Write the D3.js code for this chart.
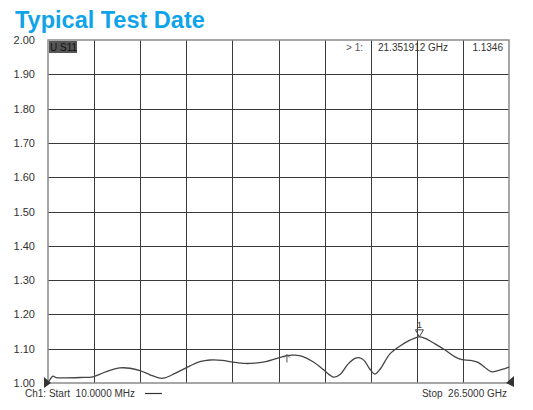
<!DOCTYPE html>
<html><head><meta charset="utf-8">
<script src="https://cdn.jsdelivr.net/npm/d3@7/dist/d3.min.js"></script>
<style>body{margin:0;background:#fff}svg{display:block}</style>
</head><body><svg id="c" width="533" height="410"></svg>
<script>
const title = "Typical Test Date";
const yTicks = [1.00,1.10,1.20,1.30,1.40,1.50,1.60,1.70,1.80,1.90,2.00];
const freqGHz = [0.01,0.125,0.30,0.47,0.99,1.85,2.60,3.00,3.57,4.15,4.72,5.30,5.87,6.45,6.73,7.31,8.17,8.74,9.32,10.01,10.64,11.33,11.90,12.59,13.05,13.74,14.20,14.66,15.24,15.81,16.21,16.44,16.79,17.25,17.65,17.88,18.17,18.51,18.80,19.09,19.66,20.24,20.81,21.35,21.68,22.25,22.83,23.40,23.80,24.26,24.72,25.12,25.47,25.87,26.27,26.50];
const swr = [1.000,1.010,1.020,1.016,1.015,1.016,1.018,1.026,1.037,1.044,1.043,1.036,1.024,1.014,1.015,1.028,1.050,1.062,1.067,1.066,1.061,1.057,1.058,1.063,1.070,1.080,1.081,1.077,1.062,1.040,1.023,1.017,1.025,1.055,1.072,1.074,1.066,1.040,1.026,1.040,1.085,1.108,1.125,1.1346,1.130,1.114,1.096,1.076,1.068,1.066,1.060,1.045,1.033,1.036,1.042,1.046];
const markerFreq = 21.351912, markerVal = 1.1346;
const refMarkerFreq = 13.74, refMarkerVal = 1.080;

const svg = d3.select("#c");
const L = 48, R = 509, T = 40, B = 383;
const x = d3.scaleLinear().domain([0.01, 26.5]).range([L, R]);
const y = d3.scaleLinear().domain([1.0, 2.0]).range([B, T]);
const font = "Liberation Sans, Arial, sans-serif";

svg.append("text").attr("x", 15).attr("y", 28).text(title)
  .attr("font-family", font).attr("font-weight", "bold").attr("font-size", 23.5)
  .attr("fill", "#0fa3ea");

// grid
const xg = d3.range(11).map(i => 0.01 + i * (26.5 - 0.01) / 10);
svg.append("g").selectAll("line").data(xg.slice(1, 10)).join("line")
  .attr("x1", d => Math.round(x(d)) + 0.5).attr("x2", d => Math.round(x(d)) + 0.5)
  .attr("y1", T).attr("y2", B).attr("stroke", "#3a3a3a").attr("stroke-width", 1);
svg.append("g").selectAll("line").data(yTicks.slice(1, 10)).join("line")
  .attr("y1", d => Math.round(y(d)) + 0.5).attr("y2", d => Math.round(y(d)) + 0.5)
  .attr("x1", L).attr("x2", R).attr("stroke", "#3a3a3a").attr("stroke-width", 1);
svg.append("rect").attr("x", L).attr("y", T).attr("width", R - L).attr("height", B - T)
  .attr("fill", "none").attr("stroke", "#8a8a8a").attr("stroke-width", 1.5);

// y labels
const yAxis = d3.axisLeft(y).tickValues(yTicks).tickFormat(d3.format(".2f")).tickSize(0).tickPadding(13);
const ga = svg.append("g").attr("transform", `translate(${L},0)`).call(yAxis);
ga.select(".domain").remove();
ga.selectAll("text").attr("font-family", font).attr("font-size", 11).attr("fill", "#333");

// trace
const line = d3.line().x((d, i) => x(freqGHz[i])).y(d => y(d)).curve(d3.curveCatmullRom.alpha(0.5));
svg.append("path").datum(swr).attr("d", line).attr("fill", "none")
  .attr("stroke", "#444").attr("stroke-width", 1.3);

// top info row
svg.append("rect").attr("x", L + 1).attr("y", T + 1).attr("width", 28).attr("height", 12).attr("fill", "#555");
svg.append("text").attr("x", L + 2).attr("y", T + 11).text("U S11")
  .attr("font-family", font).attr("font-size", 10).attr("fill", "#111");
svg.append("text").attr("x", 363).attr("y", T + 11).attr("text-anchor", "end").text("> 1:")
  .attr("font-family", font).attr("font-size", 10).attr("fill", "#555");
svg.append("text").attr("x", 378).attr("y", T + 11).text(markerFreq.toFixed(6) + " GHz")
  .attr("font-family", font).attr("font-size", 10).attr("fill", "#333");
svg.append("text").attr("x", 503).attr("y", T + 11).attr("text-anchor", "end").text(markerVal.toFixed(4))
  .attr("font-family", font).attr("font-size", 10).attr("fill", "#333");

// marker 1
const mx = x(markerFreq), my = y(markerVal);
svg.append("path").attr("d", `M${mx - 4},${my - 7}L${mx + 4},${my - 7}L${mx},${my}Z`)
  .attr("fill", "none").attr("stroke", "#444").attr("stroke-width", 1);
svg.append("text").attr("x", mx).attr("y", my - 9).attr("text-anchor", "middle").text("1")
  .attr("font-family", font).attr("font-size", 9).attr("fill", "#333");
// reference marker
const rx = x(refMarkerFreq), ry = y(refMarkerVal);
svg.append("path").attr("d", `M${rx},${ry - 1}L${rx},${ry + 7}M${rx - 3},${ry + 2}L${rx},${ry - 1}L${rx + 3},${ry + 2}`)
  .attr("fill", "none").attr("stroke", "#555").attr("stroke-width", 1);

// corner triangles
svg.append("path").attr("d", `M${L - 4},${B - 6}L${L + 3},${B}L${L - 4},${B + 5}Z`).attr("fill", "#333");
svg.append("path").attr("d", `M${R + 5},${B - 7}L${R - 3},${B}L${R + 5},${B + 4}Z`).attr("fill", "#333");

// bottom texts
svg.append("text").attr("x", 25).attr("y", 397).text("Ch1: Start  10.0000 MHz")
  .attr("font-family", font).attr("font-size", 10).attr("fill", "#333").style("white-space", "pre");
svg.append("line").attr("x1", 145).attr("x2", 162).attr("y1", 393.5).attr("y2", 393.5).attr("stroke", "#333").attr("stroke-width", 1.2);
svg.append("text").attr("x", 507).attr("y", 397).attr("text-anchor", "end").text("Stop  26.5000 GHz")
  .attr("font-family", font).attr("font-size", 10).attr("fill", "#333").style("white-space", "pre");
</script></body></html>
